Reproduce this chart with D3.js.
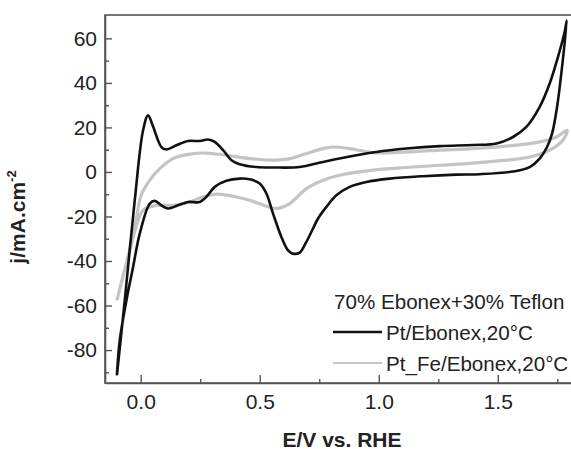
<!DOCTYPE html>
<html>
<head>
<meta charset="utf-8">
<script src="https://cdn.jsdelivr.net/npm/d3@7"></script>
<style>
  body { margin: 0; background: #fff; }
  svg { display: block; font-family: "Liberation Sans", Arial, sans-serif; }
</style>
</head>
<body>
<div id="cv"></div>
<script>
// Pt/Ebonex, 20°C  - one full CV loop (forward sweep then back)
const ptE = [-0.100, -0.067, -0.025, 0.010, 0.031, 0.050, 0.087, 0.108, 0.150, 0.199, 0.248, 0.283, 0.311,
  0.346, 0.381, 0.416, 0.486, 0.556, 0.668, 0.766, 0.906, 0.990, 1.116, 1.256, 1.396, 1.495, 1.564, 1.620,
  1.676, 1.718, 1.753, 1.781, 1.790,
  1.770, 1.749, 1.728, 1.707, 1.676, 1.634, 1.564, 1.424, 1.326, 1.186, 1.046, 0.948, 0.878, 0.822, 0.780,
  0.745, 0.724, 0.693, 0.668, 0.640, 0.619, 0.591, 0.556, 0.528, 0.500, 0.458, 0.416, 0.360, 0.311, 0.276,
  0.248, 0.199, 0.157, 0.115, 0.087, 0.059, 0.038, -0.004, -0.032, -0.060, -0.088, -0.100];
const ptJ = [-91.4, -57.7, -12.7, 18.7, 25.5, 21.0, 11.2, 10.1, 12.0, 13.9, 13.9, 14.6, 13.5,
  9.8, 5.3, 3.5, 2.2, 2.0, 2.2, 4.5, 7.5, 9.0, 10.5, 11.6, 12.1, 12.8, 15.7, 20.2,
  29.2, 39.7, 51.7, 63.0, 68.0,
  47.2, 29.2, 17.2, 11.2, 6.0, 2.2, 0.2, -1.0, -1.2, -1.9, -3.0, -4.5, -6.7, -10.5, -15.7,
  -20.9, -25.4, -32.0, -36.2, -36.7, -35.2, -29.2, -18.7, -9.7, -5.2, -3.3, -3.0, -4.0, -6.7, -11.2,
  -13.5, -13.5, -15.0, -16.4, -15.0, -13.0, -14.2, -27.7, -42.7, -57.7, -75.6, -91.4];

// Pt_Fe/Ebonex, 20°C
const ptFeE = [-0.100, -0.070, -0.040, -0.015, 0.000, 0.038, 0.080, 0.136, 0.206, 0.276, 0.360, 0.458, 0.570,
  0.626, 0.696, 0.766, 0.808, 0.878, 0.976, 1.116, 1.256, 1.396, 1.537, 1.676, 1.747, 1.791,
  1.775, 1.718, 1.634, 1.537, 1.396, 1.256, 1.116, 0.976, 0.836, 0.766, 0.696, 0.626, 0.570, 0.528, 0.458,
  0.388, 0.318, 0.262, 0.206, 0.136, 0.066, 0.010, -0.020, -0.050, -0.080, -0.100];
const ptFeJ = [-57.7, -45.0, -32.0, -19.0, -11.0, -3.7, 1.5, 6.0, 8.0, 8.5, 7.5, 6.0, 5.3,
  6.0, 8.3, 10.5, 11.2, 10.5, 8.7, 9.0, 9.8, 10.5, 11.6, 13.5, 15.7, 18.7,
  14.5, 9.8, 6.7, 5.3, 4.0, 3.0, 2.0, 0.8, -1.5, -3.7, -7.5, -14.2, -16.4, -15.4, -12.7,
  -10.9, -10.0, -11.2, -13.5, -15.0, -15.0, -17.2, -25.0, -37.0, -49.0, -57.7];

const xMajor = [0, 0.5, 1.0, 1.5];
const xMinor = [0.25, 0.75, 1.25, 1.75];
const yMajor = [-80, -60, -40, -20, 0, 20, 40, 60];
const yMinor = [-90, -70, -50, -30, -10, 10, 30, 50];

const legendTitle = "70% Ebonex+30% Teflon";
const seriesNames = ["Pt/Ebonex,20°C", "Pt_Fe/Ebonex,20°C"];
const seriesColors = ["#111", "#c4c4c4"];

function main() {
    const svg = d3.select("#cv").append("svg")
        .attr("width", 571)
        .attr("height", 449);

    const x = d3.scaleLinear().domain([-0.15, 1.9]).range([105, 593]);
    const y = d3.scaleLinear().domain([-94.8, 70.5]).range([383, 15]);
    const axisColor = "#555";

    // frame (right side falls outside the picture)
    svg.append("rect")
        .attr("x", x.range()[0]).attr("y", y.range()[1])
        .attr("width", x.range()[1] - x.range()[0])
        .attr("height", y.range()[0] - y.range()[1])
        .attr("fill", "none").attr("stroke", axisColor).attr("stroke-width", 1.6);

    const gx = svg.append("g").attr("transform", "translate(0," + y.range()[0] + ")");
    gx.call(d3.axisBottom(x).tickValues(xMajor).tickSize(-8).tickSizeOuter(0).tickPadding(11)
        .tickFormat(d3.format(".1f")));
    gx.append("g").call(d3.axisBottom(x).tickValues(xMinor).tickSize(-4).tickSizeOuter(0).tickFormat(""))
        .select(".domain").remove();

    const gy = svg.append("g").attr("transform", "translate(" + x.range()[0] + ",0)");
    gy.call(d3.axisLeft(y).tickValues(yMajor).tickSize(-7).tickSizeOuter(0).tickPadding(8)
        .tickFormat(d => String(d)));
    gy.append("g").call(d3.axisLeft(y).tickValues(yMinor).tickSize(-4).tickSizeOuter(0).tickFormat(""))
        .select(".domain").remove();

    svg.selectAll(".domain").attr("stroke", axisColor).attr("stroke-width", 1.6);
    svg.selectAll(".tick line").attr("stroke", axisColor).attr("stroke-width", 1.4);
    svg.selectAll(".tick text")
        .attr("fill", "#222")
        .style("font-size", "21px")
        .style("font-family", "'Liberation Sans', Arial, sans-serif");

    // axis titles
    svg.append("text")
        .attr("x", 342).attr("y", 446.5)
        .attr("text-anchor", "middle")
        .style("font-size", "21px").style("font-weight", "bold").attr("fill", "#222")
        .text("E/V vs. RHE");

    const yt = svg.append("text")
        .attr("transform", "translate(25,217) rotate(-90)")
        .attr("text-anchor", "middle")
        .style("font-size", "21px").style("font-weight", "bold").attr("fill", "#222");
    yt.append("tspan").text("j/mA.cm");
    yt.append("tspan").attr("dy", -9).style("font-size", "13px").text("-2");

    // curves
    const line = d3.line()
        .x(d => x(d[0]))
        .y(d => y(d[1]))
        .curve(d3.curveCatmullRom.alpha(0.5));

    const series = [
        d3.zip(ptFeE, ptFeJ),
        d3.zip(ptE, ptJ)
    ];
    svg.append("path").datum(series[0])
        .attr("d", line).attr("fill", "none")
        .attr("stroke", seriesColors[1]).attr("stroke-width", 3.2).attr("stroke-linejoin", "round");
    svg.append("path").datum(series[1])
        .attr("d", line).attr("fill", "none")
        .attr("stroke", seriesColors[0]).attr("stroke-width", 2.6).attr("stroke-linejoin", "round");

    // legend (kept just inside the right edge)
    const lg = svg.append("g").style("font-size", "20.6px").attr("fill", "#222");
    lg.append("text").attr("x", 334).attr("y", 309).text(legendTitle);
    seriesNames.forEach((name, i) => {
        const cy = 332 + i * 31;
        lg.append("line")
            .attr("x1", 333).attr("x2", 382).attr("y1", cy).attr("y2", cy)
            .attr("stroke", seriesColors[i]).attr("stroke-width", i === 0 ? 2.6 : 2.2);
        lg.append("text").attr("x", 386).attr("y", cy + 8).text(name);
    });
}
main();
</script>
</body>
</html>
